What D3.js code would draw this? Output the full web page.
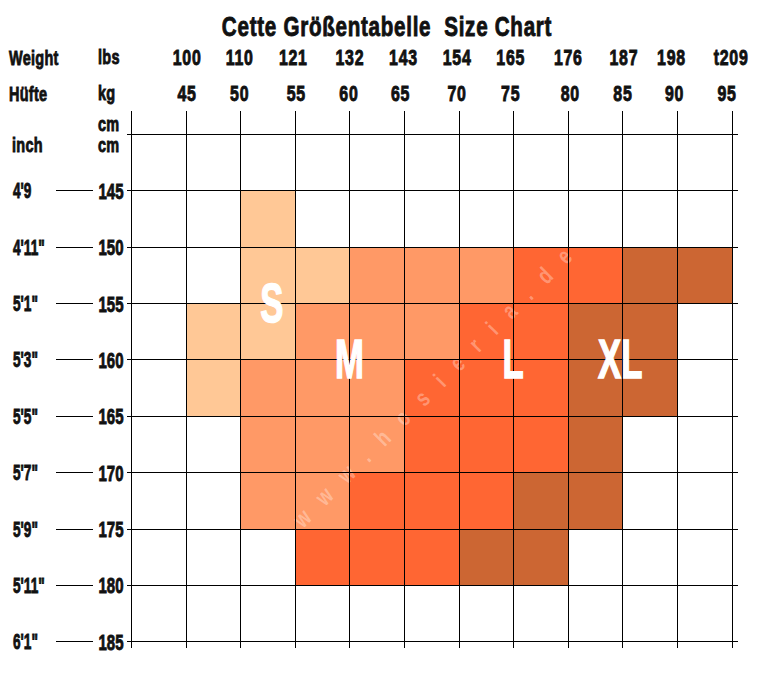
<!DOCTYPE html>
<html>
<head>
<meta charset="utf-8">
<script src="https://cdn.jsdelivr.net/npm/d3@7"></script>
<style>
  html, body { margin: 0; padding: 0; background: #fff; }
  svg { display: block; }
  text { font-family: "Liberation Sans", sans-serif; font-weight: bold; fill: #111; }
  .thick text, text.thick { stroke: #111; stroke-width: 0.9px; }
</style>
</head>
<body>
<svg id="chart" width="760" height="680"></svg>
<script>
// axis values
var kgTicks = [40, 45, 50, 55, 60, 65, 70, 75, 80, 85, 90, 95];
var cmTicks = [140, 145, 150, 155, 160, 165, 170, 175, 180, 185];
var kgLabels = [45, 50, 55, 60, 65, 70, 75, 80, 85, 90, 95];
var lbsLabels = ["100", "110", "121", "132", "143", "154", "165", "176", "187", "198", "t209"];
var cmLabels = [145, 150, 155, 160, 165, 170, 175, 180, 185];
var inchLabels = ["4'9", "4'11\"", "5'1\"", "5'3\"", "5'5\"", "5'7\"", "5'9\"", "5'11\"", "6'1\""];

// cells per size, [kg, cm] of the cell's low corner
var cellsS = [[50,145],[50,150],[55,150],[45,155],[50,155],[45,160]];
var cellsM = [[60,150],[65,150],[70,150],[55,155],[60,155],[65,155],[50,160],[55,160],[60,160],
              [50,165],[55,165],[60,165],[50,170],[55,170]];
var cellsL = [[75,150],[80,150],[70,155],[75,155],[65,160],[70,160],[75,160],[65,165],[70,165],[75,165],
              [60,170],[65,170],[70,170],[55,175],[60,175],[65,175]];
var cellsXL = [[85,150],[90,150],[80,155],[85,155],[80,160],[85,160],[80,165],[75,170],[80,170],[70,175],[75,175]];

var sizes = [
    {name: "S", cells: cellsS, color: "#ffc896", kg: 52.9, cm: 155},
    {name: "M", cells: cellsM, color: "#ff9966", kg: 60, cm: 160},
    {name: "L", cells: cellsL, color: "#ff6633", kg: 75, cm: 160},
    {name: "XL", cells: cellsXL, color: "#cc6633", kg: 84.8, cm: 160}
];

var svg = d3.select("#chart");

var x = d3.scaleLinear().domain([40, 95]).range([131, 731.6]);
var y = d3.scaleLinear().domain([140, 185]).range([134, 641.3]);

// no condensed font here, so squeeze the text sideways
function narrow(sel, sx) {
    sel.each(function() {
        var t = d3.select(this);
        var px = +t.attr("x") || 0;
        var py = +t.attr("y") || 0;
        t.attr("x", null).attr("y", null)
            .attr("transform", "translate(" + px + "," + py + ") scale(" + sx + ",1)");
    });
}

// the coloured cells
sizes.forEach(function(s) {
    svg.append("g").selectAll("rect")
        .data(s.cells)
        .enter()
        .append("rect")
        .attr("x", function(d) { return x(d[0]); })
        .attr("y", function(d) { return y(d[1]); })
        .attr("width", function(d) { return x(d[0] + 5) - x(d[0]); })
        .attr("height", function(d) { return y(d[1] + 5) - y(d[1]); })
        .attr("shape-rendering", "crispEdges")
        .attr("fill", s.color);
});

// watermark
svg.append("text")
    .attr("transform", "translate(303,529) rotate(-45) scale(0.75,1)")
    .style("font-size", "24px")
    .style("letter-spacing", "23px")
    .style("fill", "#fff")
    .style("fill-opacity", 0.33)
    .text("www.hosieria.de");

// grid, from the axes
var gridV = svg.append("g")
    .attr("transform", "translate(0,648)")
    .call(d3.axisBottom(x).tickValues(kgTicks).tickSize(-537).tickFormat(""));
var gridH = svg.append("g")
    .attr("transform", "translate(738,0)")
    .call(d3.axisLeft(y).tickValues(cmTicks).tickSize(611).tickFormat(""));
[gridV, gridH].forEach(function(g) {
    g.select(".domain").remove();
    g.selectAll("line").attr("stroke", "#000").attr("shape-rendering", "crispEdges");
    g.selectAll("text").remove();
});

// big size letters
svg.append("g").selectAll("text")
    .data(sizes)
    .enter()
    .append("text")
    .attr("x", function(d) { return x(d.kg); })
    .attr("y", function(d) { return y(d.cm) + 19; })
    .attr("text-anchor", "middle")
    .style("font-size", "56px")
    .style("fill", "#fff")
    .style("stroke", "#fff")
    .style("stroke-width", "1.5px")
    .text(function(d) { return d.name; })
    .call(narrow, 0.62);

// title
svg.append("text")
    .attr("class", "thick")
    .attr("x", 387)
    .attr("y", 36)
    .attr("text-anchor", "middle")
    .attr("xml:space", "preserve")
    .style("font-size", "28px")
    .style("letter-spacing", "1px")
    .text("Cette Größentabelle  Size Chart")
    .call(narrow, 0.735);

// top labels: lbs and kg sit over the same weight columns
var lbsAxis = d3.axisTop(x)
    .tickValues(kgLabels)
    .tickSize(0)
    .tickFormat(function(d, i) { return lbsLabels[i]; });
var kgAxis = d3.axisTop(x)
    .tickValues(kgLabels)
    .tickSize(0)
    .tickFormat(function(d) { return d; });

var lbsNudge = [1, -1, -2, 0, -1, -2, -3, 0, 1, -6, -1];
var kgNudge = [1, -1, 1, -1, -4, -2, -3, 2, 0, -3, -5];

function topLabels(axis, yPos, nudge) {
    var g = svg.append("g")
        .attr("class", "thick")
        .attr("transform", "translate(0," + yPos + ")")
        .call(axis);
    g.select(".domain").remove();
    g.selectAll("text")
        .attr("dy", 0)
        .attr("x", function(d, i) { return nudge[i]; })
        .attr("y", 0)
        .style("font-size", "21.5px")
        .style("letter-spacing", "1px")
        .call(narrow, 0.74);
}
topLabels(lbsAxis, 65, lbsNudge);
topLabels(kgAxis, 101, kgNudge);

// row labels
var rowAxis = d3.axisLeft(y)
    .tickValues(cmLabels)
    .tickSize(37)
    .tickPadding(0)
    .tickFormat(function(d) { return d; });
var rows = svg.append("g")
    .attr("class", "thick")
    .attr("transform", "translate(93,0)")
    .call(rowAxis);
rows.select(".domain").remove();
rows.selectAll("line").attr("stroke", "#000").attr("shape-rendering", "crispEdges");
rows.selectAll("text")
    .attr("text-anchor", "start")
    .attr("dy", 0)
    .attr("x", 5.5)
    .attr("y", 8)
    .style("font-size", "22px")
    .call(narrow, 0.68);

svg.append("g")
    .attr("class", "thick")
    .selectAll("text")
    .data(inchLabels)
    .enter()
    .append("text")
    .attr("x", 13)
    .attr("y", function(d, i) { return y(cmLabels[i]) + 8; })
    .style("font-size", "22px")
    .text(function(d) { return d; })
    .call(narrow, 0.62);

// corner headings
var headings = [
    {t: "Weight", px: 9, py: 65},
    {t: "Hüfte", px: 9, py: 101},
    {t: "lbs", px: 98, py: 64},
    {t: "kg", px: 98, py: 100},
    {t: "cm", px: 98, py: 131},
    {t: "cm", px: 98, py: 152},
    {t: "inch", px: 12, py: 152}
];
svg.append("g")
    .attr("class", "thick")
    .selectAll("text")
    .data(headings)
    .enter()
    .append("text")
    .attr("x", function(d) { return d.px; })
    .attr("y", function(d) { return d.py; })
    .style("font-size", "21px")
    .style("letter-spacing", "0.4px")
    .text(function(d) { return d.t; })
    .call(narrow, 0.69);
</script>
</body>
</html>
